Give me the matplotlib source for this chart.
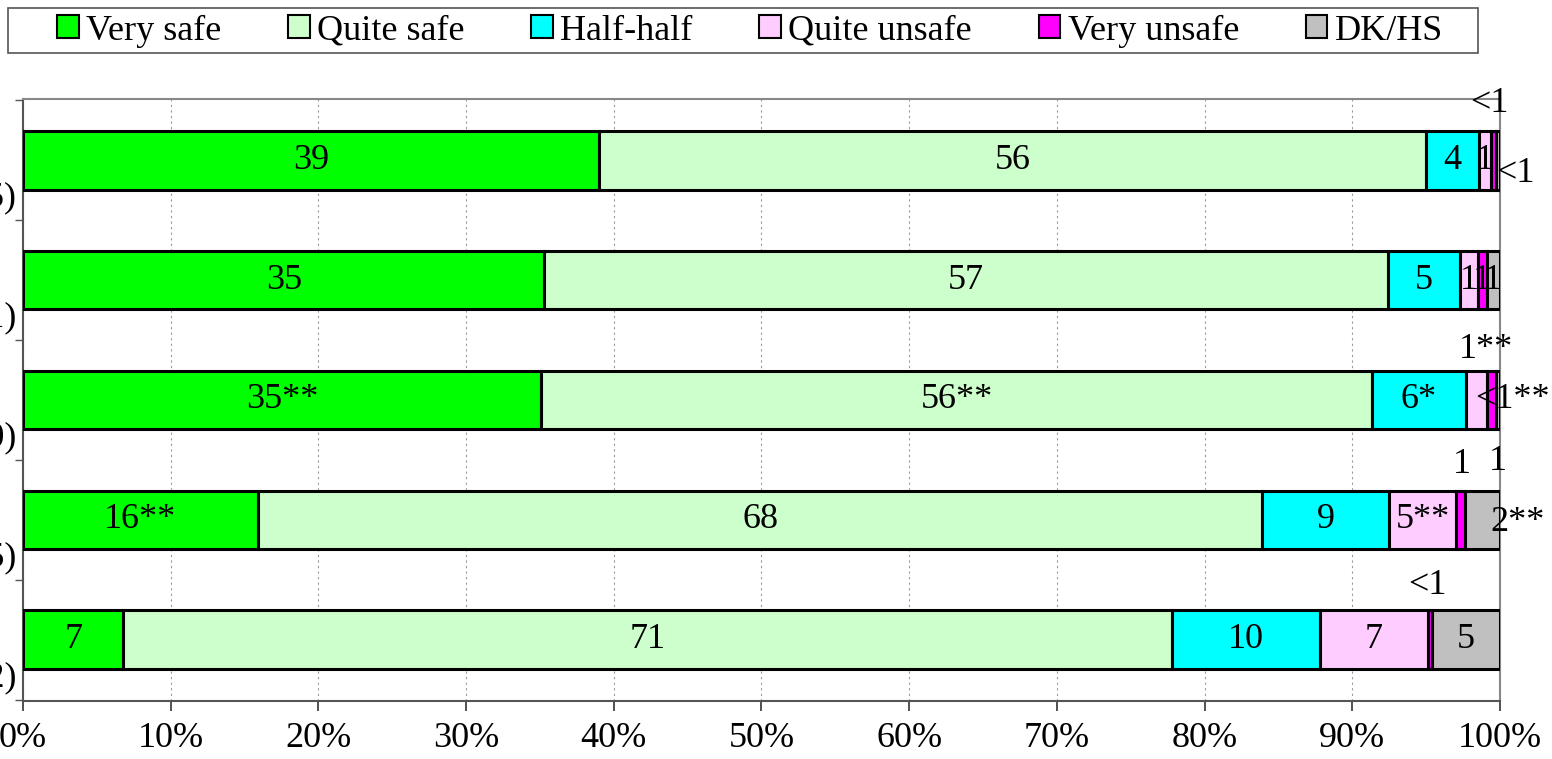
import matplotlib.pyplot as plt
from matplotlib.patches import Patch, Ellipse, Rectangle
from matplotlib.ticker import FixedLocator, PercentFormatter
import matplotlib.transforms as mtransforms

plt.rcParams['font.family'] = ['Liberation Serif', 'DejaVu Serif']

# survey rounds, top to bottom (left side of the labels is cut off in the original)
rounds = ["2011 (n=1005)", "2010 (n=1001)", "2009 (n=1000)", "2008 (n=1005)", "2007 (n=1002)"]
categories = ["Very safe", "Quite safe", "Half-half", "Quite unsafe", "Very unsafe", "DK/HS"]
colors = ["#00FF00", "#CCFFCC", "#00FFFF", "#FFCCFF", "#FF00FF", "#C0C0C0"]

# shares in %, one list per category (rows follow 'rounds')
very_safe    = [39.0, 35.3, 35.1, 15.9, 6.8]
quite_safe   = [56.0, 57.1, 56.2, 68.0, 71.0]
half_half    = [3.6, 4.9, 6.4, 8.6, 10.0]
quite_unsafe = [0.8, 1.2, 1.4, 4.5, 7.3]
very_unsafe  = [0.3, 0.6, 0.6, 0.6, 0.3]
dk_hs        = [0.3, 0.9, 0.3, 2.4, 4.6]

# printed labels, same layout
lab_very_safe    = ["39", "35", "35**", "16**", "7"]
lab_quite_safe   = ["56", "57", "56**", "68", "71"]
lab_half_half    = ["4", "5", "6*", "9", "10"]
lab_quite_unsafe = ["1", "1", "1**", "5**", "7"]
lab_very_unsafe  = ["<1", "1", "<1**", "1", "<1"]
lab_dk_hs        = ["<1", "1", "1", "2**", "5"]

series = [very_safe, quite_safe, half_half, quite_unsafe, very_unsafe, dk_hs]
labels = [lab_very_safe, lab_quite_safe, lab_half_half, lab_quite_unsafe, lab_very_unsafe, lab_dk_hs]

# labels that sit outside their small segments: (category, row) -> pixel offset
moved = {(4, 0): (-4, 57), (5, 0): (18, -13),
         (3, 2): (10, 50), (4, 2): (21, 0), (5, 2): (0, -61),
         (4, 3): (2, 55), (5, 3): (35, -3),
         (4, 4): (-2, 54)}

fig = plt.figure(figsize=(15.52, 7.59), dpi=100)
fig.patches.append(Ellipse((0.91, 1.05), 0.22, 0.1, transform=fig.transFigure,
                           facecolor="#dde7f3", edgecolor="none", zorder=0))
ax = fig.add_axes([23/1552, 1 - 701/759, 1477/1552, 602/759])

y = list(range(len(rounds)))
left = [0.0] * len(rounds)
for ci, (vals, labs) in enumerate(zip(series, labels)):
    ax.barh(y, vals, left=left, height=0.49, color=colors[ci], edgecolor="black",
            linewidth=2.2, label=categories[ci], zorder=3)
    for ri in range(len(rounds)):
        cx = left[ri] + vals[ri] / 2
        dx, dy = moved.get((ci, ri), (0, 0))
        ax.annotate(labs[ri], (cx, ri), xytext=(dx, dy), textcoords="offset pixels",
                    ha="center", va="center", fontsize=26, zorder=5,
                    annotation_clip=False)
    left = [l + v for l, v in zip(left, vals)]

ax.set_xlim(0, 100)
ax.set_ylim(4.51, -0.51)
ax.xaxis.set_major_locator(FixedLocator(range(0, 101, 10)))
ax.xaxis.set_major_formatter(PercentFormatter(decimals=0))
ax.tick_params(axis="x", length=7, width=1.2, color="#333333", pad=8, labelsize=26)
ax.set_yticks(y)
ax.set_yticklabels(rounds)
ax.set_yticks([i - 0.5 for i in range(len(rounds) + 1)], minor=True)
ax.tick_params(axis="y", which="major", length=0, pad=5, labelsize=26)
ax.tick_params(axis="y", which="minor", length=6, width=1, color="#555555")
shift = mtransforms.ScaledTranslation(0, -0.34, fig.dpi_scale_trans)
for t in ax.get_yticklabels():
    t.set_transform(t.get_transform() + shift)

ax.grid(axis="x", color="#999999", linestyle=(0, (2, 3)), linewidth=0.8, zorder=0)
ax.spines["top"].set_color("#888888")
ax.spines["right"].set_color("#888888")
ax.spines["left"].set_color("#555555")
ax.spines["bottom"].set_color("#555555")
for s in ax.spines.values():
    s.set_linewidth(1.5)

# legend box drawn separately so it can be wider than its entries
fig.patches.append(Rectangle((8/1552, 1 - 53/759), 1470/1552, 45/759,
                             transform=fig.transFigure, facecolor="white",
                             edgecolor="#555555", linewidth=1.2, zorder=1))
handles = [Patch(facecolor=c, edgecolor="black", linewidth=1.5) for c in colors]
leg = fig.legend(handles, categories, loc="center", ncol=6,
                 bbox_to_anchor=(750/1552, 1 - 31/759),
                 fontsize=26, frameon=False,
                 handlelength=0.6, handleheight=0.6, handletextpad=0.2,
                 columnspacing=1.85, borderpad=0.05, borderaxespad=0)

fig.savefig("out.png", dpi=100)
